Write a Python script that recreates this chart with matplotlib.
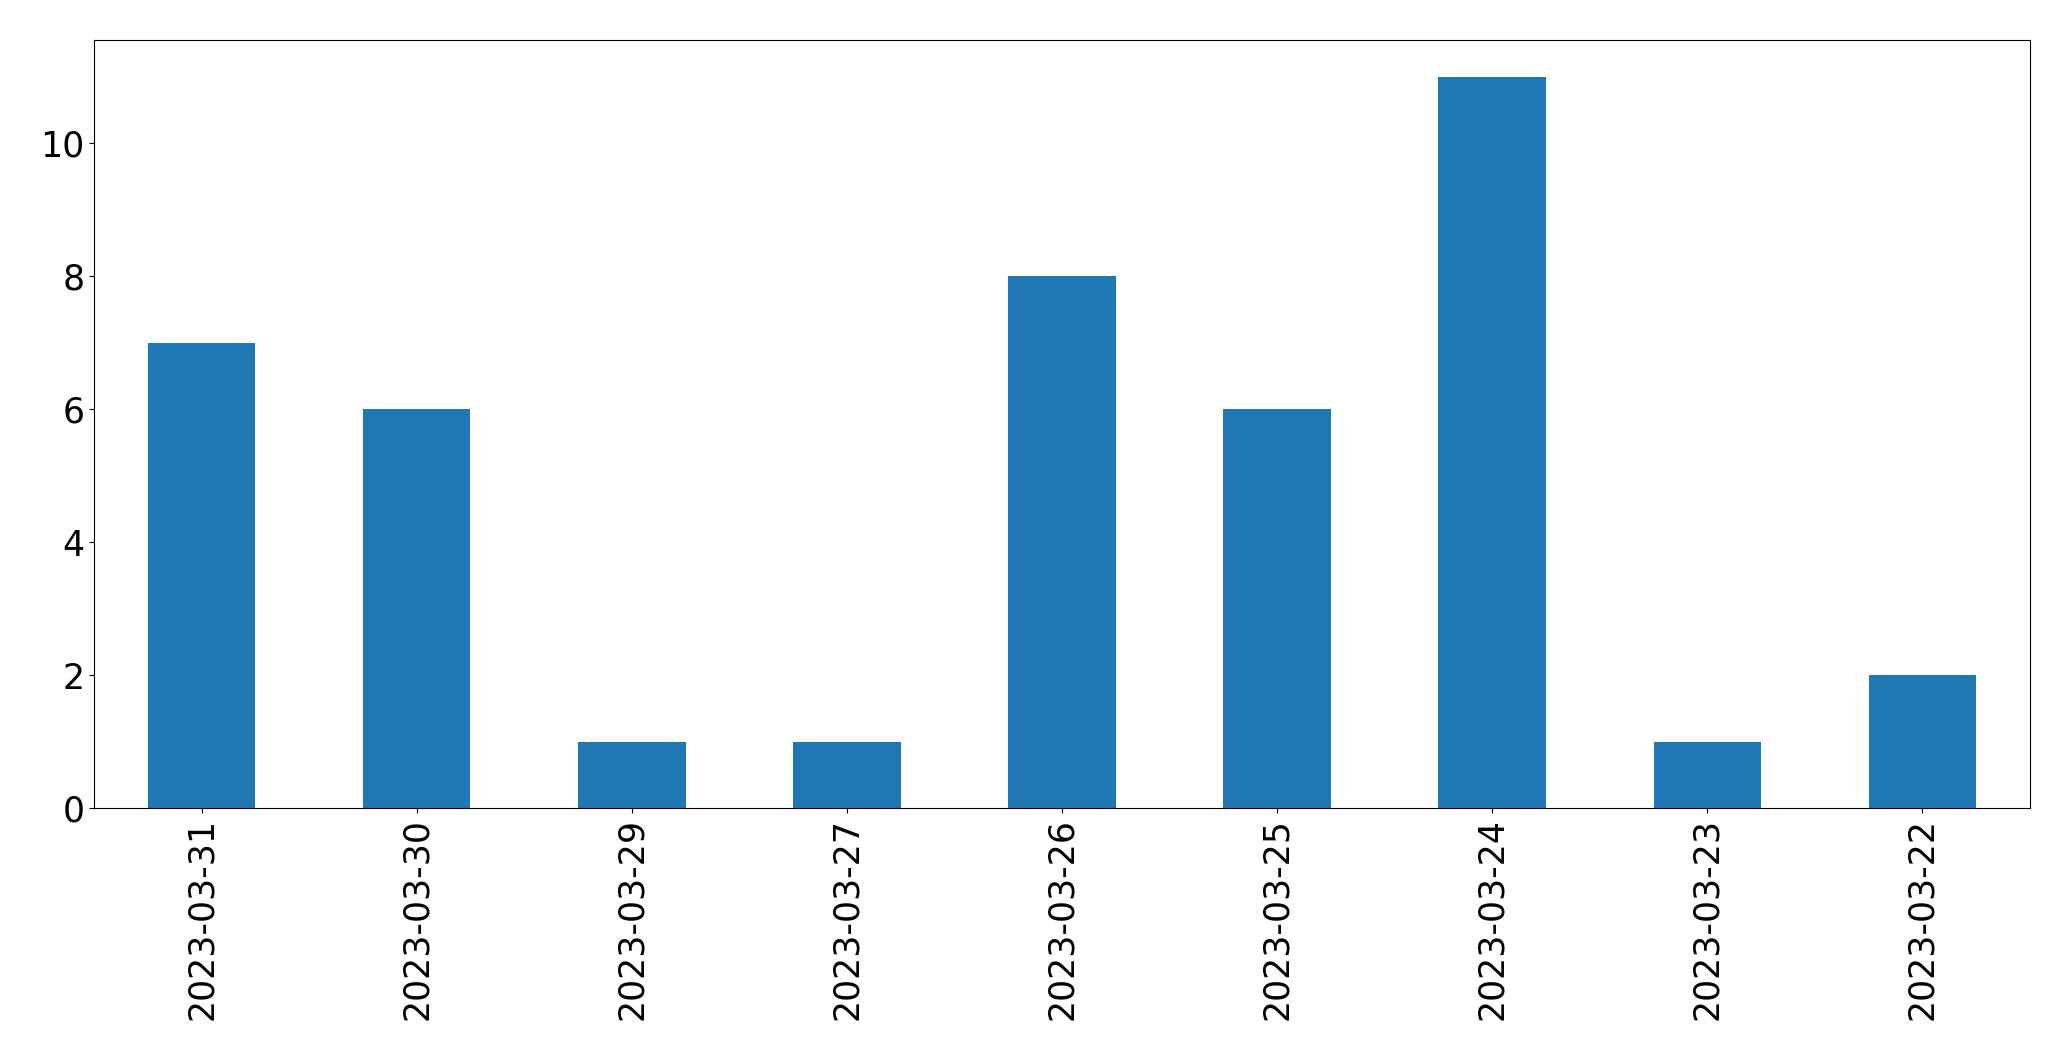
import matplotlib
matplotlib.use("Agg")
import matplotlib.pyplot as plt
import numpy as np

# dates as shown on the x axis (descending order)
dates = ["2023-03-31", "2023-03-30", "2023-03-29", "2023-03-27", "2023-03-26",
         "2023-03-25", "2023-03-24", "2023-03-23", "2023-03-22"]
counts = [7, 6, 1, 1, 8, 6, 11, 1, 2]

fig, ax = plt.subplots(figsize=(20.71, 10.61), dpi=100)
x = np.arange(len(dates))
ax.bar(x, counts, width=0.5, color="#1f77b4")
ax.set_xlim(-0.5, len(dates) - 0.5)
ax.set_xticks(x)
ax.set_xticklabels(dates, rotation=90)
ax.tick_params(axis="both", labelsize=25)

fig.subplots_adjust(left=94 / 2071, right=2030 / 2071, top=1 - 40 / 1061, bottom=1 - 808 / 1061)
fig.savefig("out.png", dpi=100)
